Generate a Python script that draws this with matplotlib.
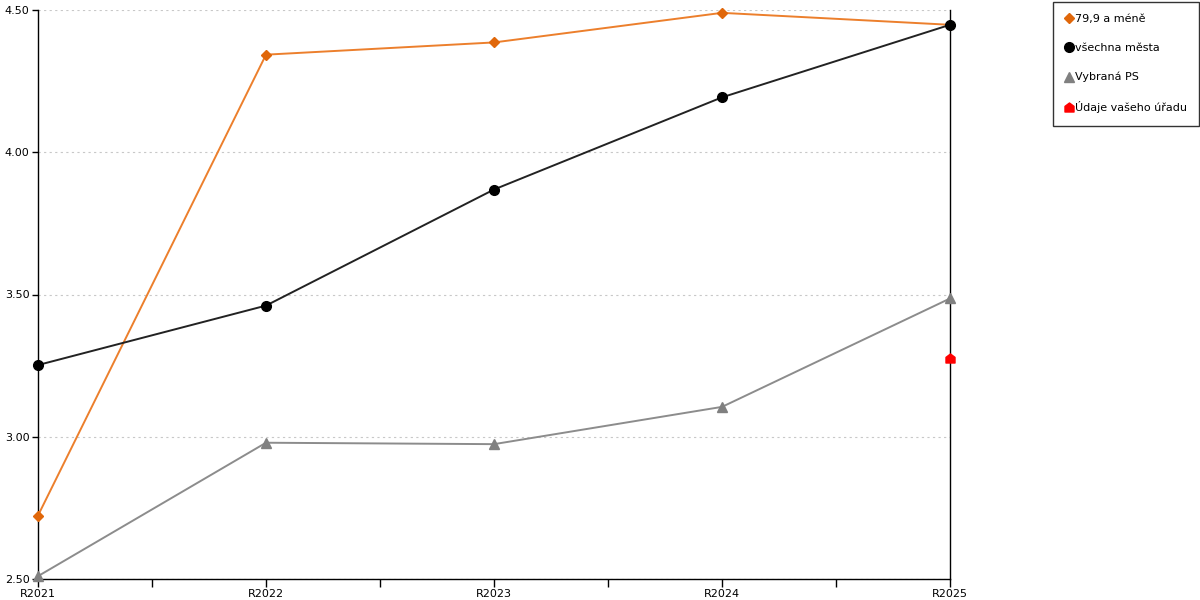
import matplotlib.pyplot as plt
import numpy as np
from matplotlib.lines import Line2D
from matplotlib.path import Path

years = ["R2021", "R2022", "R2023", "R2024", "R2025"]
mene = [2.723, 4.343, 4.386, 4.49, 4.448]
mesta = [3.252, 3.461, 3.869, 4.193, 4.448]
ps = [2.51, 2.979, 2.974, 3.105, 3.486]
urad = [3.278]   # only R2025

plt.rcParams['font.family'] = ['DejaVu Sans']

# house-shaped marker for the office data
house = Path([(-1, -1), (1, -1), (1, 0.25), (0, 1), (-1, 0.25), (-1, -1)],
             [Path.MOVETO, Path.LINETO, Path.LINETO, Path.LINETO, Path.LINETO, Path.CLOSEPOLY])

fig = plt.figure(figsize=(12, 6), dpi=100)
ax = fig.add_axes([38/1200, 21/600, 912/1200, 569/600])

x = np.arange(len(years))
ax.plot(x, mene, color="#ec7f2c", lw=1.4, marker="D", ms=5.5,
        mfc="#e0670a", mec="#e0670a", zorder=3, clip_on=False)
ax.plot(x, mesta, color="#222222", lw=1.4, marker="o", ms=7,
        mfc="black", mec="black", zorder=3, clip_on=False)
ax.plot(x, ps, color="#8c8c8c", lw=1.4, marker="^", ms=7.5,
        mfc="#808080", mec="#808080", zorder=3, clip_on=False)
ax.plot(x[-1:], urad, ls="none", marker=house, ms=6.5,
        mfc="#ff0000", mec="#ff0000", zorder=4, clip_on=False)

ax.set_xlim(0, 4)
ax.set_ylim(2.5, 4.5)
ax.set_xticks(x)
ax.set_xticklabels(years)
ax.set_xticks(x[:-1] + 0.5, minor=True)
ax.set_yticks([2.5, 3.0, 3.5, 4.0, 4.5])
ax.yaxis.set_major_formatter(plt.FormatStrFormatter("%.2f"))
ax.tick_params(axis="x", which="both", length=6, width=1, color="black", labelsize=8, pad=1)
ax.tick_params(axis="y", length=4, width=1, color="black", labelsize=8, pad=2)

ax.grid(axis="y", color="#c8c8c8", ls=(0, (2, 3)), lw=0.8)
ax.set_axisbelow(True)
ax.spines["top"].set_visible(False)
for s in ["left", "bottom", "right"]:
    ax.spines[s].set_color("black")
    ax.spines[s].set_linewidth(1)

handles = [
    Line2D([], [], ls="none", marker="D", ms=5.5, mfc="#e0670a", mec="#e0670a"),
    Line2D([], [], ls="none", marker="o", ms=7, mfc="black", mec="black"),
    Line2D([], [], ls="none", marker="^", ms=7.5, mfc="#808080", mec="#808080"),
    Line2D([], [], ls="none", marker=house, ms=6.5, mfc="#ff0000", mec="#ff0000"),
]
labels = ["79,9 a méně", "všechna města", "Vybraná PS", "Údaje vašeho úřadu"]
leg = fig.legend(handles, labels, loc="upper left", bbox_to_anchor=(1053/1200, 1 - 2/600),
                 fontsize=8, frameon=True, fancybox=False, edgecolor="black",
                 labelspacing=1.7, handlelength=0.6, handletextpad=0.3,
                 borderpad=1.1, borderaxespad=0)
leg.get_frame().set_linewidth(1)

fig.savefig("out.png", dpi=100)
plt.close()
